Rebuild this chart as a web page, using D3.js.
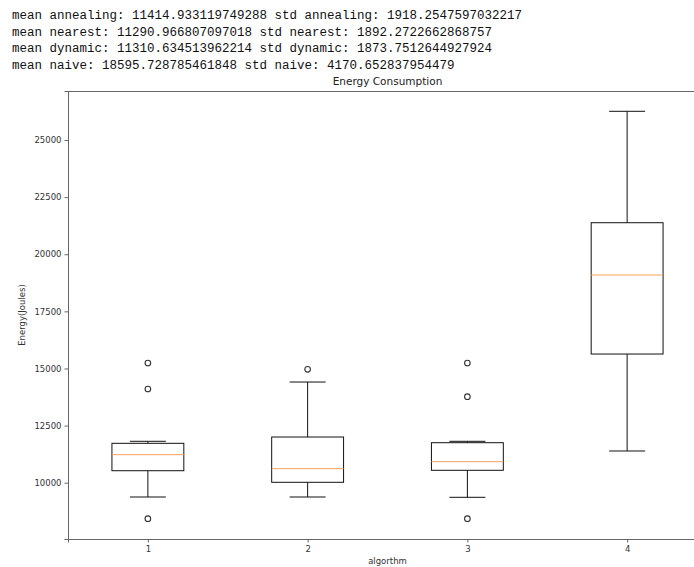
<!DOCTYPE html>
<html lang="en">
<head>
<meta charset="UTF-8">
<title>Energy Consumption</title>
<script src="https://d3js.org/d3.v7.min.js"></script>
<style>
  body { margin: 0; background: #fff; overflow: hidden; }
  .log { font-family: "Liberation Mono", "Courier New", monospace; font-size: 12.5px; fill: #111; }
  .axis text { font-family: "DejaVu Sans", sans-serif; font-size: 8.5px; fill: #333; }
  .axis path, .axis line { stroke: #666; }
</style>
</head>
<body>
<div id="chart"></div>
<script>
// printed output above the figure
var logLines = [
  "mean annealing: 11414.933119749288 std annealing: 1918.2547597032217",
  "mean nearest: 11290.966807097018 std nearest: 1892.2722662868757",
  "mean dynamic: 11310.634513962214 std dynamic: 1873.7512644927924",
  "mean naive: 18595.728785461848 std naive: 4170.652837954479"
];

// box stats, one entry per algorithm
var algorithms = [1, 2, 3, 4];
var whiskerLow  = [9374, 9374, 9361, 11388];
var q1          = [10525, 10018, 10543, 15633];
var medians     = [11226, 10613, 10919, 19091];
var q3          = [11724, 12000, 11751, 21380];
var whiskerHigh = [11812, 14407, 11812, 26256];
var outliers    = [[15239, 14101, 8424], [14963], [15239, 13764, 8424], []];

var yTicks = [10000, 12500, 15000, 17500, 20000, 22500, 25000];

var W = 694, H = 567;
var margin = {top: 91, left: 68, bottom: 539, right: 707};

var svg = d3.select("#chart").append("svg")
  .attr("width", W)
  .attr("height", H);

svg.selectAll(".log")
  .data(logLines)
  .enter().append("text")
    .attr("class", "log")
    .attr("x", 12)
    .attr("y", function(d, i) { return 19 + i * 16.6; })
    .text(function(d) { return d; });

var x = d3.scaleLinear().domain([0.5, 4.5]).range([margin.left, margin.right]);
var y = d3.scaleLinear().domain([7536, 27145]).range([margin.bottom, margin.top]);

var boxW = x(1.45) - x(1);   // 0.45 wide boxes
var capW = boxW / 2;

// axes
svg.append("g")
  .attr("class", "axis")
  .attr("transform", "translate(0," + margin.bottom + ")")
  .call(d3.axisBottom(x).tickValues(algorithms).tickFormat(d3.format("d")).tickSizeOuter(0).tickSize(3.5).tickPadding(3));

svg.append("g")
  .attr("class", "axis")
  .attr("transform", "translate(" + margin.left + ",0)")
  .call(d3.axisLeft(y).tickValues(yTicks).tickFormat(d3.format("d")).tickSizeOuter(0).tickSize(3.5).tickPadding(3));

// top spine (right spine falls outside the window)
svg.append("line")
  .attr("x1", margin.left).attr("x2", margin.right)
  .attr("y1", margin.top + 0.5).attr("y2", margin.top + 0.5)
  .attr("stroke", "#666");

var boxes = svg.selectAll(".box")
  .data(algorithms)
  .enter().append("g")
    .attr("class", "box");

// whiskers
boxes.append("line")
  .attr("x1", function(d) { return x(d); }).attr("x2", function(d) { return x(d); })
  .attr("y1", function(d, i) { return y(whiskerLow[i]); })
  .attr("y2", function(d, i) { return y(q1[i]); })
  .attr("stroke", "#111");
boxes.append("line")
  .attr("x1", function(d) { return x(d); }).attr("x2", function(d) { return x(d); })
  .attr("y1", function(d, i) { return y(whiskerHigh[i]); })
  .attr("y2", function(d, i) { return y(q3[i]); })
  .attr("stroke", "#111");

// caps
boxes.append("line")
  .attr("x1", function(d) { return x(d) - capW / 2; }).attr("x2", function(d) { return x(d) + capW / 2; })
  .attr("y1", function(d, i) { return y(whiskerLow[i]); })
  .attr("y2", function(d, i) { return y(whiskerLow[i]); })
  .attr("stroke", "#111");
boxes.append("line")
  .attr("x1", function(d) { return x(d) - capW / 2; }).attr("x2", function(d) { return x(d) + capW / 2; })
  .attr("y1", function(d, i) { return y(whiskerHigh[i]); })
  .attr("y2", function(d, i) { return y(whiskerHigh[i]); })
  .attr("stroke", "#111");

// boxes
boxes.append("rect")
  .attr("x", function(d) { return x(d) - boxW / 2; })
  .attr("y", function(d, i) { return y(q3[i]); })
  .attr("width", boxW)
  .attr("height", function(d, i) { return y(q1[i]) - y(q3[i]); })
  .attr("fill", "none")
  .attr("stroke", "#111");

// medians
boxes.append("line")
  .attr("x1", function(d) { return x(d) - boxW / 2; }).attr("x2", function(d) { return x(d) + boxW / 2; })
  .attr("y1", function(d, i) { return y(medians[i]); })
  .attr("y2", function(d, i) { return y(medians[i]); })
  .attr("stroke", "#f5a05a");

// fliers
boxes.each(function(d, i) {
  d3.select(this).selectAll("circle")
    .data(outliers[i])
    .enter().append("circle")
      .attr("cx", x(d))
      .attr("cy", function(v) { return y(v); })
      .attr("r", 2.8)
      .attr("fill", "none")
      .attr("stroke", "#333")
      .attr("stroke-width", 1.1);
});

// title + labels
svg.append("text")
  .attr("x", (margin.left + margin.right) / 2)
  .attr("y", 85)
  .attr("text-anchor", "middle")
  .style("font-family", "DejaVu Sans, sans-serif")
  .style("font-size", "10.5px")
  .style("fill", "#222")
  .text("Energy Consumption");

svg.append("text")
  .attr("x", (margin.left + margin.right) / 2)
  .attr("y", 564)
  .attr("text-anchor", "middle")
  .style("font-family", "DejaVu Sans, sans-serif")
  .style("font-size", "8.5px")
  .style("fill", "#333")
  .text("algorthm");

svg.append("text")
  .attr("transform", "translate(25," + (margin.top + margin.bottom) / 2 + ") rotate(-90)")
  .attr("text-anchor", "middle")
  .style("font-family", "DejaVu Sans, sans-serif")
  .style("font-size", "8.5px")
  .style("fill", "#333")
  .text("Energy(Joules)");
</script>
</body>
</html>
